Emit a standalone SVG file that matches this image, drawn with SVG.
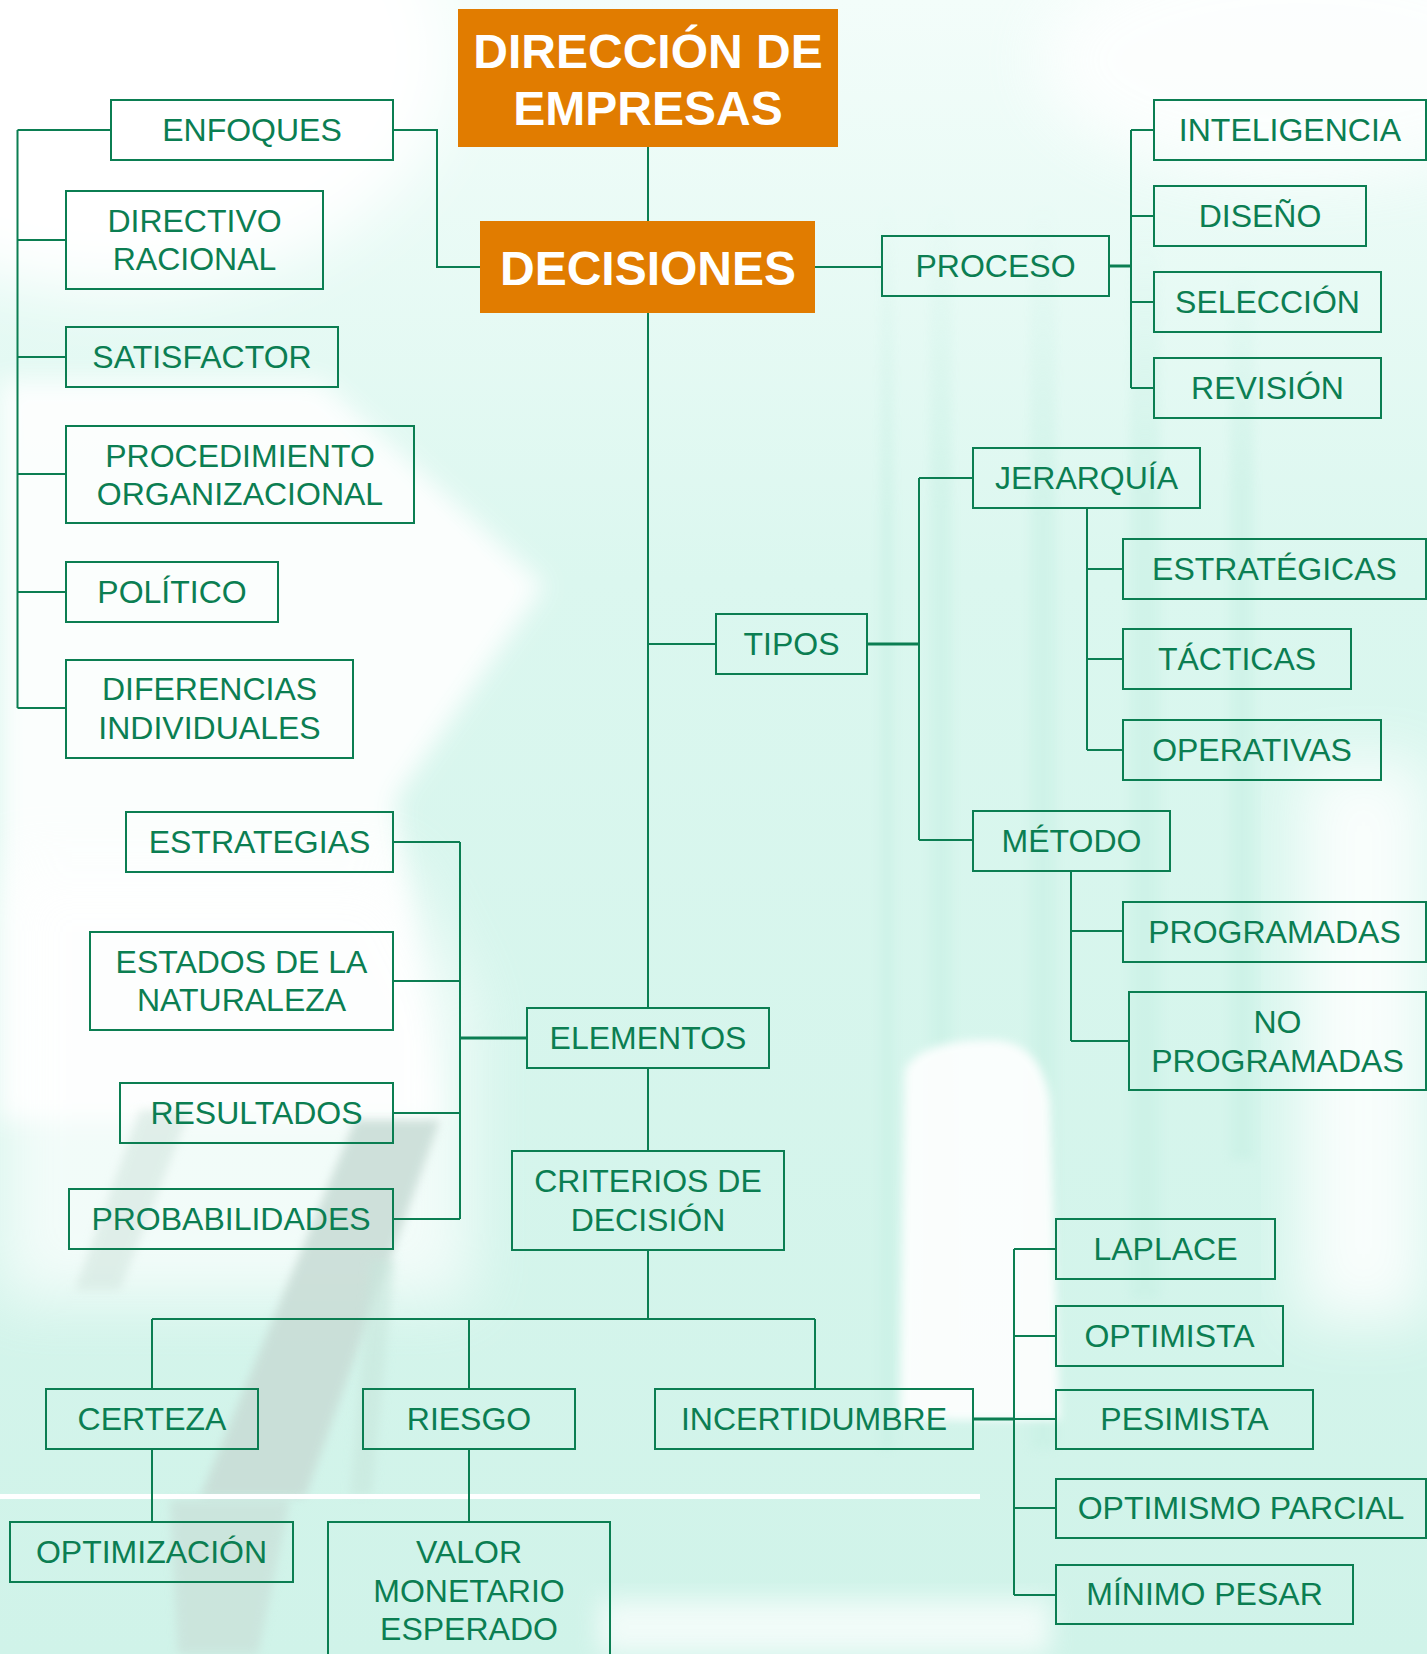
<svg xmlns="http://www.w3.org/2000/svg" width="1427" height="1654" viewBox="0 0 1427 1654">
<style>
.box{fill:none;stroke:#0B7E52;stroke-width:2}
.t{font-family:"Liberation Sans",Arial,sans-serif;font-size:32px;fill:#0B7E52;text-anchor:middle}
.ob{fill:#E17C00}
.ot{font-family:"Liberation Sans",Arial,sans-serif;font-weight:bold;font-size:48px;fill:#FFFFFF;text-anchor:middle}
.c{fill:none;stroke:#0B7E52;stroke-width:2}
.c3{fill:none;stroke:#0B7E52;stroke-width:3}
</style>
<defs>
<linearGradient id="bgv" x1="0" y1="0" x2="0" y2="1">
<stop offset="0" stop-color="#f3fdfa"/>
<stop offset="0.35" stop-color="#dbf7ef"/>
<stop offset="1" stop-color="#d0f3e9"/>
</linearGradient>
<linearGradient id="fade" x1="0" y1="0" x2="0" y2="1">
<stop offset="0" stop-color="#c4efe2" stop-opacity="0"/>
<stop offset="0.25" stop-color="#c4efe2" stop-opacity="1"/>
<stop offset="1" stop-color="#c4efe2" stop-opacity="1"/>
</linearGradient>
<filter id="b30" x="-30%" y="-30%" width="160%" height="160%"><feGaussianBlur stdDeviation="30"/></filter>
<filter id="b12" x="-30%" y="-30%" width="160%" height="160%"><feGaussianBlur stdDeviation="12"/></filter>
<filter id="b5" x="-30%" y="-30%" width="160%" height="160%"><feGaussianBlur stdDeviation="5"/></filter>
</defs>

<g id="background">
<rect x="0" y="0" width="1427" height="1654" fill="url(#bgv)"/>
<ellipse cx="120" cy="60" rx="330" ry="230" fill="#ffffff" filter="url(#b30)"/>
<polygon points="0,380 320,380 545,585 395,800 440,1120 0,1120" fill="#ffffff" opacity="0.9" filter="url(#b12)"/>
<polygon points="0,860 400,860 470,1000 470,1300 0,1300" fill="#ffffff" opacity="0.7" filter="url(#b30)"/>
<ellipse cx="1300" cy="60" rx="260" ry="120" fill="#ffffff" opacity="0.8" filter="url(#b30)"/>
<rect x="1300" y="760" width="127" height="560" fill="#ffffff" opacity="0.85" filter="url(#b30)"/>
<g opacity="0.45" filter="url(#b5)">
<rect x="880" y="200" width="14" height="1250" fill="url(#fade)"/>
<rect x="930" y="200" width="22" height="1220" fill="url(#fade)"/>
<rect x="1030" y="200" width="26" height="1250" fill="url(#fade)"/>
<rect x="1130" y="220" width="30" height="1080" fill="url(#fade)"/>
<rect x="1230" y="260" width="24" height="900" fill="url(#fade)"/>
</g>
<path d="M905,1070 Q920,1040 990,1040 Q1040,1040 1050,1100 L1060,1420 L900,1420 Z" fill="#ffffff" opacity="0.9" filter="url(#b5)"/>
<polygon points="355,1120 440,1120 305,1497 200,1497" fill="#c8dcd5" opacity="0.85" filter="url(#b5)"/>
<polygon points="170,1500 290,1500 258,1654 178,1654" fill="#c8dcd5" opacity="0.6" filter="url(#b5)"/>
<polygon points="140,1110 190,1110 120,1290 75,1290" fill="#d3e6df" opacity="0.6" filter="url(#b5)"/>
<polygon points="370,1260 395,1260 372,1495 350,1495" fill="#c8e6dc" opacity="0.6" filter="url(#b5)"/>
<rect x="0" y="1494" width="980" height="5" fill="#ffffff"/>
<rect x="600" y="1600" width="450" height="54" fill="#ffffff" opacity="0.7" filter="url(#b12)"/>
</g>

<g id="connectors">
<path class="c" d="M648,147 V221 M648,313 V1008 M648,1068 V1151 M648,1250 V1319"/>
<path class="c" d="M17.5,130 V708 M17.5,130 H111 M17.5,240 H66 M17.5,357 H66 M17.5,474 H66 M17.5,592 H66 M17.5,708 H66"/>
<path class="c" d="M393,130 H437 V267 H480"/>
<path class="c" d="M815,267 H882"/>
<path class="c3" d="M1109,266 H1131"/>
<path class="c" d="M1131,130 V388 M1131,130 H1154 M1131,216 H1154 M1131,302 H1154 M1131,388 H1154"/>
<path class="c" d="M648,644 H716"/>
<path class="c3" d="M867,644 H919"/>
<path class="c" d="M919,478 V840 M919,478 H973 M919,840 H973"/>
<path class="c" d="M1087,508 V750 M1087,569 H1123 M1087,659 H1123 M1087,750 H1123"/>
<path class="c" d="M1071,871 V1041 M1071,931 H1123 M1071,1041 H1129"/>
<path class="c" d="M460,842 V1219 M393,842 H460 M393,981 H460 M393,1113 H460 M393,1219 H460"/>
<path class="c3" d="M460,1038 H527"/>
<path class="c" d="M152,1319 H815 M152,1319 V1389 M469,1319 V1389 M815,1319 V1389"/>
<path class="c" d="M152,1449 V1522 M469,1449 V1522"/>
<path class="c3" d="M973,1419 H1014"/>
<path class="c" d="M1014,1249 V1595 M1014,1249 H1056 M1014,1336 H1056 M1014,1419 H1056 M1014,1508 H1056 M1014,1595 H1056"/>
</g>

<g id="direccion"><rect class="ob" x="458" y="9" width="380" height="138"/><text class="ot" x="648" y="68">DIRECCIÓN DE</text><text class="ot" x="648" y="125">EMPRESAS</text></g>
<g id="decisiones"><rect class="ob" x="480" y="221" width="335" height="92"/><text class="ot" x="648" y="285">DECISIONES</text></g>

<g id="enfoques"><rect class="box" x="111" y="100" width="282" height="60"/><text class="t" x="252" y="141">ENFOQUES</text></g>
<g id="directivo"><rect class="box" x="66" y="191" width="257" height="98"/><text class="t" x="194.5" y="232">DIRECTIVO</text><text class="t" x="194.5" y="270">RACIONAL</text></g>
<g id="satisfactor"><rect class="box" x="66" y="327" width="272" height="60"/><text class="t" x="202" y="368">SATISFACTOR</text></g>
<g id="procedimiento"><rect class="box" x="66" y="426" width="348" height="97"/><text class="t" x="240" y="467">PROCEDIMIENTO</text><text class="t" x="240" y="505">ORGANIZACIONAL</text></g>
<g id="politico"><rect class="box" x="66" y="562" width="212" height="60"/><text class="t" x="172" y="603">POLÍTICO</text></g>
<g id="diferencias"><rect class="box" x="66" y="660" width="287" height="98"/><text class="t" x="209.5" y="700">DIFERENCIAS</text><text class="t" x="209.5" y="739">INDIVIDUALES</text></g>

<g id="proceso"><rect class="box" x="882" y="236" width="227" height="60"/><text class="t" x="995.5" y="277">PROCESO</text></g>
<g id="inteligencia"><rect class="box" x="1154" y="100" width="272" height="60"/><text class="t" x="1290" y="141">INTELIGENCIA</text></g>
<g id="diseno"><rect class="box" x="1154" y="186" width="212" height="60"/><text class="t" x="1260" y="227">DISEÑO</text></g>
<g id="seleccion"><rect class="box" x="1154" y="272" width="227" height="60"/><text class="t" x="1267.5" y="313">SELECCIÓN</text></g>
<g id="revision"><rect class="box" x="1154" y="358" width="227" height="60"/><text class="t" x="1267.5" y="399">REVISIÓN</text></g>

<g id="tipos"><rect class="box" x="716" y="614" width="151" height="60"/><text class="t" x="791.5" y="655">TIPOS</text></g>
<g id="jerarquia"><rect class="box" x="973" y="448" width="227" height="60"/><text class="t" x="1086.5" y="489">JERARQUÍA</text></g>
<g id="estrategicas"><rect class="box" x="1123" y="539" width="303" height="60"/><text class="t" x="1274.5" y="580">ESTRATÉGICAS</text></g>
<g id="tacticas"><rect class="box" x="1123" y="629" width="228" height="60"/><text class="t" x="1237" y="670">TÁCTICAS</text></g>
<g id="operativas"><rect class="box" x="1123" y="720" width="258" height="60"/><text class="t" x="1252" y="761">OPERATIVAS</text></g>
<g id="metodo"><rect class="box" x="973" y="811" width="197" height="60"/><text class="t" x="1071.5" y="852">MÉTODO</text></g>
<g id="programadas"><rect class="box" x="1123" y="902" width="303" height="60"/><text class="t" x="1274.5" y="943">PROGRAMADAS</text></g>
<g id="noprogramadas"><rect class="box" x="1129" y="992" width="297" height="98"/><text class="t" x="1277.5" y="1033">NO</text><text class="t" x="1277.5" y="1072">PROGRAMADAS</text></g>

<g id="estrategias"><rect class="box" x="126" y="812" width="267" height="60"/><text class="t" x="259.5" y="853">ESTRATEGIAS</text></g>
<g id="estados"><rect class="box" x="90" y="932" width="303" height="98"/><text class="t" x="241.5" y="973">ESTADOS DE LA</text><text class="t" x="241.5" y="1011">NATURALEZA</text></g>
<g id="elementos"><rect class="box" x="527" y="1008" width="242" height="60"/><text class="t" x="648" y="1049">ELEMENTOS</text></g>
<g id="resultados"><rect class="box" x="120" y="1083" width="273" height="60"/><text class="t" x="256.5" y="1124">RESULTADOS</text></g>
<g id="probabilidades"><rect class="box" x="69" y="1189" width="324" height="60"/><text class="t" x="231" y="1230">PROBABILIDADES</text></g>
<g id="criterios"><rect class="box" x="512" y="1151" width="272" height="99"/><text class="t" x="648" y="1192">CRITERIOS DE</text><text class="t" x="648" y="1231">DECISIÓN</text></g>

<g id="certeza"><rect class="box" x="46" y="1389" width="212" height="60"/><text class="t" x="152" y="1430">CERTEZA</text></g>
<g id="riesgo"><rect class="box" x="363" y="1389" width="212" height="60"/><text class="t" x="469" y="1430">RIESGO</text></g>
<g id="incertidumbre"><rect class="box" x="655" y="1389" width="318" height="60"/><text class="t" x="814" y="1430">INCERTIDUMBRE</text></g>
<g id="optimizacion"><rect class="box" x="10" y="1522" width="283" height="60"/><text class="t" x="151.5" y="1563">OPTIMIZACIÓN</text></g>
<g id="valor"><rect class="box" x="328" y="1522" width="282" height="160"/><text class="t" x="469" y="1563">VALOR</text><text class="t" x="469" y="1602">MONETARIO</text><text class="t" x="469" y="1640">ESPERADO</text></g>

<g id="laplace"><rect class="box" x="1056" y="1219" width="219" height="60"/><text class="t" x="1165.5" y="1260">LAPLACE</text></g>
<g id="optimista"><rect class="box" x="1056" y="1306" width="227" height="60"/><text class="t" x="1169.5" y="1347">OPTIMISTA</text></g>
<g id="pesimista"><rect class="box" x="1056" y="1390" width="257" height="59"/><text class="t" x="1184.5" y="1430">PESIMISTA</text></g>
<g id="optimismoparcial"><rect class="box" x="1056" y="1479" width="370" height="59"/><text class="t" x="1241" y="1519">OPTIMISMO PARCIAL</text></g>
<g id="minimopesar"><rect class="box" x="1056" y="1565" width="297" height="59"/><text class="t" x="1204.5" y="1605">MÍNIMO PESAR</text></g>
</svg>
